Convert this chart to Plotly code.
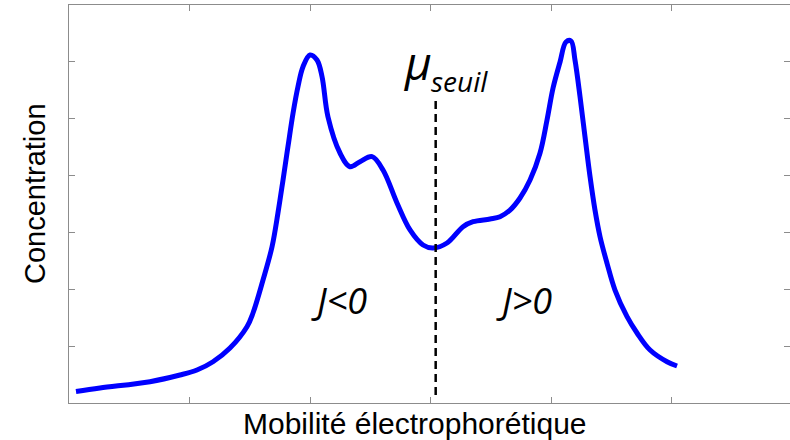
import plotly.graph_objects as go

# Curve (mobility units, concentration units)
mobility = [0.058, 0.257, 0.672, 0.921, 1.062, 1.195, 1.336, 1.477, 1.527, 1.610,
            1.685, 1.734, 1.776, 1.817, 1.859, 1.900, 1.942, 2.000, 2.058, 2.100,
            2.149, 2.249, 2.332, 2.415, 2.515, 2.606, 2.722, 2.830, 2.938, 3.021,
            3.137, 3.270, 3.353, 3.494, 3.577, 3.660, 3.743, 3.826, 3.909, 3.967,
            4.017, 4.075, 4.124, 4.166, 4.199, 4.241, 4.282, 4.324, 4.365, 4.407,
            4.465, 4.531, 4.631, 4.714, 4.822, 4.963, 5.046]
concentration = [0.202, 0.264, 0.375, 0.492, 0.580, 0.726, 0.967, 1.342, 1.583, 2.163,
                 2.749, 3.342, 3.922, 4.508, 5.095, 5.563, 5.915, 6.121, 6.033, 5.739,
                 5.035, 4.397, 4.156, 4.244, 4.332, 4.098, 3.518, 3.043, 2.779, 2.726,
                 2.814, 3.101, 3.189, 3.236, 3.277, 3.394, 3.606, 3.922, 4.397, 4.977,
                 5.540, 5.998, 6.349, 6.367, 6.033, 5.387, 4.684, 3.980, 3.394, 2.925,
                 2.457, 1.987, 1.518, 1.231, 0.932, 0.726, 0.651]

threshold_x = [3.043, 3.043]
threshold_y = [0.14, 5.33]

x_ticks = [1, 2, 3, 4, 5]
y_ticks = [1, 2, 3, 4, 5, 6]

x_title = "Mobilité électrophorétique"
y_title = "Concentration"
mu_text = "µ"
sub_text = "seuil"
left_label = "J<0"
right_label = "J>0"

fig = go.Figure()
fig.add_trace(go.Scatter(x=mobility, y=concentration, mode="lines",
                         line=dict(color="#0000ff", width=5, shape="spline", smoothing=1.0),
                         hoverinfo="skip", showlegend=False))
fig.add_trace(go.Scatter(x=threshold_x, y=threshold_y, mode="lines",
                         line=dict(color="black", width=2.5, dash="8px,5px"),
                         hoverinfo="skip", showlegend=False))

axis_common = dict(showgrid=False, zeroline=False, showline=True, linecolor="#8c8c8c",
                   linewidth=1, mirror="ticks", ticks="inside", ticklen=6,
                   tickcolor="#8c8c8c", tickwidth=1, showticklabels=False)

fig.update_layout(
    width=790, height=440,
    margin=dict(l=69, r=0, t=5, b=37),
    paper_bgcolor="white", plot_bgcolor="white",
    xaxis=dict(range=[0, 721 / 120.5], tickvals=x_ticks, **axis_common),
    yaxis=dict(range=[0, 7], tickvals=y_ticks, **axis_common),
)

sans = "Liberation Sans, Arial, sans-serif"
ital = "Open Sans, Lato, sans-serif"
ann_paper = [
    dict(x=0.48, y=-0.0503, text=x_title, font=dict(family=sans, size=30, color="black"),
         xanchor="center", yanchor="middle"),
    dict(x=-0.0472, y=0.5276, text=y_title, textangle=-90,
         font=dict(family=sans, size=29, color="black"), xanchor="center", yanchor="middle"),
]
for a in ann_paper:
    a.update(xref="paper", yref="paper", showarrow=False)
    fig.add_annotation(**a)

ann_data = [
    dict(x=2.888, y=6.0, text="<i>" + mu_text + "</i>",
         font=dict(family=ital, size=46, color="black"), xanchor="center", yanchor="middle"),
    dict(x=2.99, y=5.66, text="<i>" + sub_text + "</i>",
         font=dict(family=ital, size=28, color="black"), xanchor="left", yanchor="middle"),
    dict(x=2.241, y=1.803, text="<i>" + left_label + "</i>",
         font=dict(family=ital, size=36, color="black"), xanchor="center", yanchor="middle"),
    dict(x=3.776, y=1.803, text="<i>" + right_label + "</i>",
         font=dict(family=ital, size=36, color="black"), xanchor="center", yanchor="middle"),
]
for a in ann_data:
    a.update(xref="x", yref="y", showarrow=False)
    fig.add_annotation(**a)

fig.write_html("out.html")
